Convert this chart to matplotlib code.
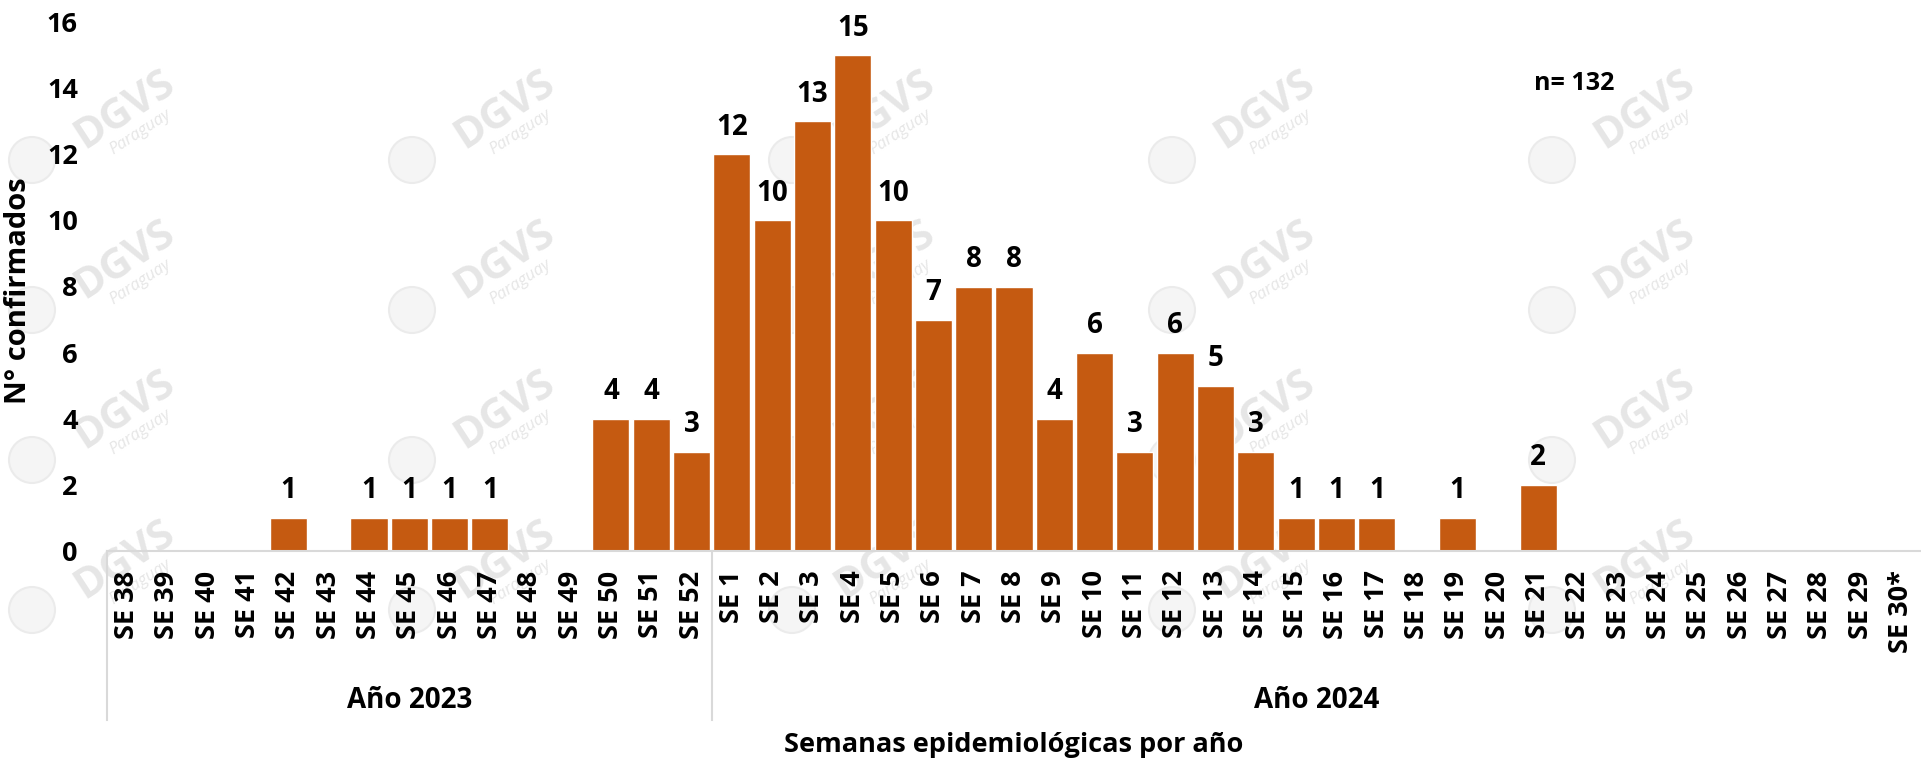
import matplotlib
matplotlib.use('Agg')
import matplotlib.pyplot as plt
import matplotlib.transforms as mtrans
from matplotlib.patches import Ellipse

plt.rcParams['font.family'] = ['Open Sans', 'DejaVu Sans']
plt.rcParams['font.weight'] = 'bold'

# semanas epidemiologicas
weeks2023 = ['SE 38', 'SE 39', 'SE 40', 'SE 41', 'SE 42', 'SE 43', 'SE 44', 'SE 45',
             'SE 46', 'SE 47', 'SE 48', 'SE 49', 'SE 50', 'SE 51', 'SE 52']
cases2023 = [0, 0, 0, 0, 1, 0, 1, 1, 1, 1, 0, 0, 4, 4, 3]
weeks2024 = ['SE 1', 'SE 2', 'SE 3', 'SE 4', 'SE 5', 'SE 6', 'SE 7', 'SE 8', 'SE 9', 'SE 10',
             'SE 11', 'SE 12', 'SE 13', 'SE 14', 'SE 15', 'SE 16', 'SE 17', 'SE 18', 'SE 19', 'SE 20',
             'SE 21', 'SE 22', 'SE 23', 'SE 24', 'SE 25', 'SE 26', 'SE 27', 'SE 28', 'SE 29', 'SE 30*']
cases2024 = [12, 10, 13, 15, 10, 7, 8, 8, 4, 6, 3, 6, 5, 3, 1, 1, 1, 0, 1, 0,
             2, 0, 0, 0, 0, 0, 0, 0, 0, 0]
years = ['Año 2023', 'Año 2024']
total_text = 'n= 132'

labels = weeks2023 + weeks2024
values = cases2023 + cases2024
x = list(range(len(labels)))

W, H = 1921, 764
fig = plt.figure(figsize=(W / 100, H / 100), dpi=100)
ax = fig.add_axes([107 / W, 1 - 551 / H, (W - 107) / W, (551 - 22) / H])
ax.patch.set_alpha(0)

# marca de agua (solo las que caben enteras)
wm_col = '#e6e6e6'
for cx in [125, 505, 885, 1265, 1645]:
    for cy in [110, 260, 410, 560]:
        fig.text(cx / W, 1 - cy / H, 'DGVS', rotation=33, color=wm_col, fontsize=30,
                 fontweight='bold', ha='center', va='center', zorder=-5)
        fig.text((cx + 15) / W, 1 - (cy + 22) / H, 'Paraguay', rotation=33, color=wm_col,
                 fontsize=12, style='italic', fontweight='normal', ha='center', va='center', zorder=-5)
        fig.patches.append(Ellipse(((cx - 93) / W, 1 - (cy + 50) / H), 46 / W, 46 / H,
                                   transform=fig.transFigure, facecolor='#f5f5f5',
                                   edgecolor='#ebebeb', lw=1.5, zorder=-6))

bars = ax.bar(x, values, width=0.92, color='#C55A11', edgecolor='white', linewidth=1, zorder=2)
for xi, v in zip(x, values):
    if v > 0:
        ax.annotate(str(v), (xi, v), xytext=(0, 14), textcoords='offset points',
                    ha='center', va='baseline', fontsize=20, fontweight='bold')

ax.set_xlim(-0.5, len(labels) - 0.5)
ax.set_ylim(0, 16)
ax.set_yticks(range(0, 17, 2))
ax.set_xticks(x)
ax.set_xticklabels(labels, rotation=90, va='top', fontsize=19.5, fontweight='bold')
ax.tick_params(axis='x', length=0, pad=14)
ax.tick_params(axis='y', length=0, pad=21, labelsize=19.5)
for s in ['top', 'right', 'left']:
    ax.spines[s].set_visible(False)
ax.spines['bottom'].set_color('#d9d9d9')
ax.spines['bottom'].set_linewidth(1.5)

trans = mtrans.blended_transform_factory(ax.transData, ax.transAxes)
n23 = len(weeks2023)
for sx in [-0.5, n23 - 0.5]:
    ax.plot([sx, sx], [0, -0.32], transform=trans, clip_on=False, color='#d9d9d9', lw=1.5)
ax.text((n23 - 1) / 2, -0.282, years[0], transform=trans, ha='center', va='center', fontsize=20)
ax.text(n23 + (len(weeks2024) - 1) / 2, -0.282, years[1], transform=trans, ha='center', va='center',
        fontsize=20)

ax.text(35.9, 14.15, total_text, ha='center', va='center', fontsize=18)

fig.text((107 + W) / 2 / W, 0.025, 'Semanas epidemiológicas por año', ha='center', va='center',
         fontsize=19.5)
fig.text(0.0094, 1 - (551 + 30) / 2 / H, 'N° confirmados', rotation=90, ha='center', va='center',
         fontsize=21)

fig.savefig('out.png', dpi=100)
